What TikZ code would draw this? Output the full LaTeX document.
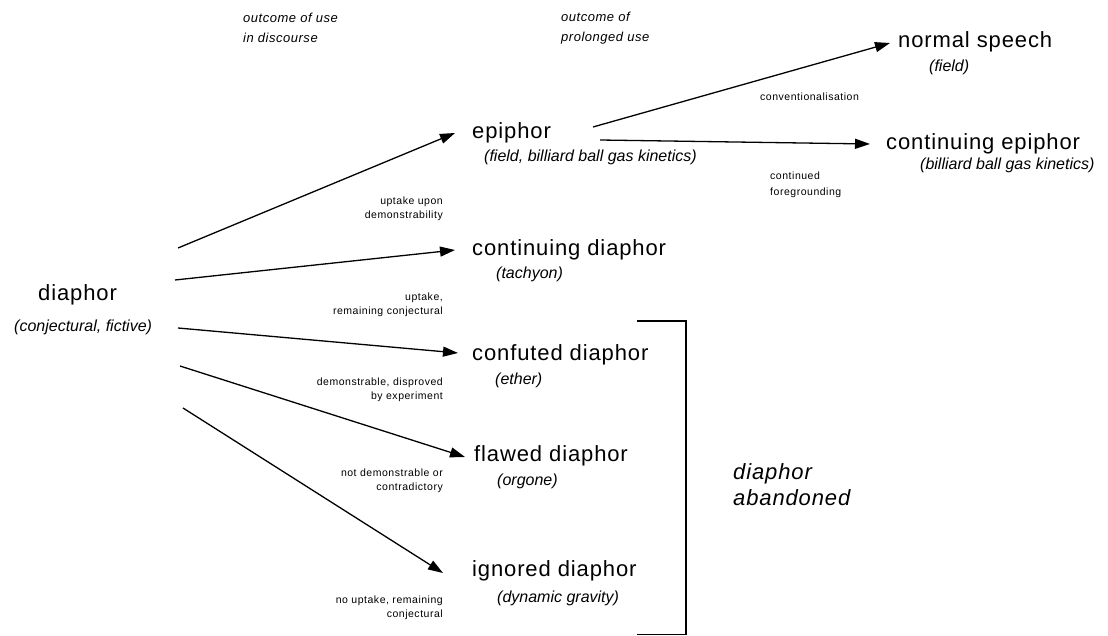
\documentclass[tikz,border=0pt]{standalone}
\usepackage{fontspec}
\setmainfont{Liberation Sans}
\usetikzlibrary{arrows.meta}
\begin{document}
\begin{tikzpicture}[x=1pt,y=-1pt,
  mainlbl/.style={inner sep=0pt,anchor=west,font=\fontsize{22}{26}\selectfont\addfontfeature{LetterSpace=4},text height=15pt,text depth=4.5pt},
  example/.style={inner sep=0pt,anchor=west,font=\fontsize{16}{19}\selectfont\itshape,text height=11.5pt,text depth=3.5pt},
  note/.style={inner sep=0pt,anchor=east,align=right,font=\fontsize{10.5}{14}\selectfont\addfontfeature{LetterSpace=5}},
  notel/.style={inner sep=0pt,anchor=west,align=left,font=\fontsize{10.5}{16}\selectfont\addfontfeature{LetterSpace=5}},
  header/.style={inner sep=0pt,anchor=west,align=left,font=\fontsize{13}{20}\selectfont\itshape\addfontfeature{LetterSpace=4}},
  conn/.style={line width=1.3pt,-{Triangle[length=15pt,width=10pt]}},
  bracket/.style={line width=1.3pt}
]
\useasboundingbox (0,0) rectangle (1108,636);

% headers
\node[header] (h1) at (243,28) {outcome of use\\in discourse};
\node[header] (h2) at (561,28) {outcome of\\prolonged use};

% main nodes
\node[mainlbl] (diaphor) at (38,295) {diaphor};
\node[example] (diaphorex) at (14,327) {(conjectural, fictive)};

\node[mainlbl] (epiphor) at (472,133) {epiphor};
\node[example] (epiphorex) at (484,158) {(field, billiard ball gas kinetics)};

\node[mainlbl] (normal) at (898,42) {normal speech};
\node[example] (normalex) at (929,68) {(field)};

\node[mainlbl] (contepi) at (886,144) {continuing epiphor};
\node[example] (contepiex) at (920,166) {(billiard ball gas kinetics)};

\node[mainlbl] (contdia) at (472,250) {continuing diaphor};
\node[example] (contdiaex) at (496,275) {(tachyon)};

\node[mainlbl] (confuted) at (472,355) {confuted diaphor};
\node[example] (confutedex) at (495,380) {(ether)};

\node[mainlbl] (flawed) at (474,456) {flawed diaphor};
\node[example] (flawedex) at (497,481) {(orgone)};

\node[mainlbl] (ignored) at (472,571) {ignored diaphor};
\node[example] (ignoredex) at (497,598) {(dynamic gravity)};

\node[inner sep=0pt,anchor=west,align=left,font=\fontsize{22}{26}\selectfont\itshape\addfontfeature{LetterSpace=4}] (aband) at (733,485) {diaphor\\abandoned};

% notes
\node[notel] (n1) at (760,97) {conventionalisation};
\node[notel] (n2) at (770,185) {continued\\foregrounding};
\node[note] (n3) at (443,209) {uptake upon\\demonstrability};
\node[note] (n4) at (443,305) {uptake,\\remaining conjectural};
\node[note] (n5) at (443,390) {demonstrable, disproved\\by experiment};
\node[note] (n6) at (443,481) {not demonstrable or\\contradictory};
\node[note] (n7) at (443,608) {no uptake, remaining\\conjectural};

% connector endpoints
\coordinate (s1) at (178,248); \coordinate (e1) at (455,133);
\coordinate (s2) at (175,280); \coordinate (e2) at (455,250);
\coordinate (s3) at (178,328); \coordinate (e3) at (458,353);
\coordinate (s4) at (180,366); \coordinate (e4) at (465,457);
\coordinate (s5) at (183,408); \coordinate (e5) at (443,573);
\coordinate (s6) at (593,127); \coordinate (e6) at (890,43);
\coordinate (s7) at (600,140); \coordinate (e7) at (870,144);

\draw[conn] (s1) -- (e1);
\draw[conn] (s2) -- (e2);
\draw[conn] (s3) -- (e3);
\draw[conn] (s4) -- (e4);
\draw[conn] (s5) -- (e5);
\draw[conn] (s6) -- (e6);
\draw[conn] (s7) -- (e7);

% bracket
\coordinate (b1) at (637,321); \coordinate (b2) at (686,321);
\coordinate (b3) at (686,634.5); \coordinate (b4) at (637,634.5);
\draw[bracket] (b1) -- (b2) -- (b3) -- (b4);
\end{tikzpicture}
\end{document}
